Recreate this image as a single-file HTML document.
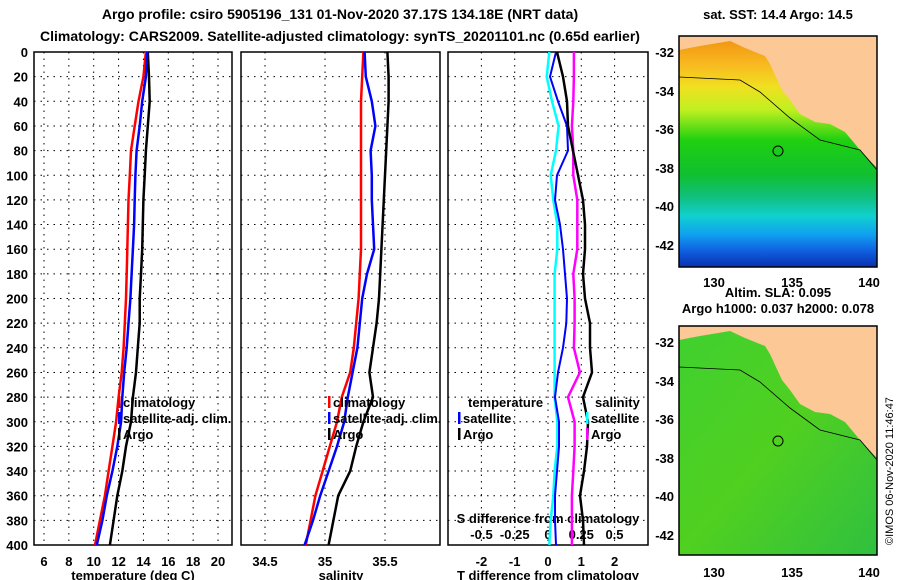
<!DOCTYPE html>
<html><head><meta charset="utf-8"><style>
body{margin:0;background:#fff}
svg{display:block;font-family:"Liberation Sans",sans-serif;font-weight:bold}
</style></head><body>
<svg id="c" width="900" height="580" viewBox="0 0 900 580">
<text x="340" y="19" font-size="14" text-anchor="middle">Argo profile: csiro 5905196_131 01-Nov-2020 37.17S 134.18E (NRT data)</text>
<text x="340" y="41" font-size="14" text-anchor="middle">Climatology: CARS2009. Satellite-adjusted climatology: synTS_20201101.nc (0.65d earlier)</text>
<g id="g"></g>
</svg>
<script>
const depths=[0,20,40,60,80,100,120,140,160,180,200,220,240,260,280,300,320,340,360,380,400];
const tArgo=[14.35,14.45,14.5,14.35,14.2,14.1,14.0,13.95,13.9,13.8,13.7,13.7,13.55,13.4,13.15,13.0,12.6,12.3,11.9,11.6,11.3];
const tClim=[14.2,14.0,13.6,13.3,13.0,12.9,12.8,12.75,12.7,12.65,12.6,12.5,12.4,12.25,12.0,11.8,11.5,11.2,10.9,10.5,10.1];
const tSat=[14.3,14.2,13.9,13.7,13.45,13.35,13.3,13.25,13.15,13.05,12.95,12.8,12.65,12.45,12.3,12.2,11.9,11.5,11.05,10.7,10.25];
const sArgo=[35.52,35.53,35.53,35.52,35.51,35.5,35.49,35.48,35.47,35.46,35.45,35.43,35.4,35.37,35.4,35.32,35.26,35.21,35.11,35.07,35.03];
const sClim=[35.32,35.31,35.3,35.3,35.3,35.3,35.3,35.3,35.3,35.29,35.28,35.26,35.24,35.21,35.14,35.1,35.04,34.98,34.92,34.88,34.84];
const sSat=[35.33,35.34,35.39,35.42,35.38,35.39,35.39,35.4,35.41,35.35,35.31,35.29,35.27,35.23,35.19,35.16,35.1,35.03,34.96,34.9,34.83];
const dTsat=[0.24,0.06,0.3,0.57,0.6,0.27,0.21,0.36,0.45,0.51,0.57,0.55,0.45,0.3,0.21,0.33,0.33,0.27,0.21,0.21,0.24];
const dTargo=[0.27,0.45,0.57,0.6,0.75,0.9,1.05,1.11,1.11,1.05,1.11,1.26,1.26,1.32,1.05,1.2,1.17,1.08,0.96,1.05,1.08];
const dSsat=[0.01,-0.01,0.03,0.08,0.06,0.02,0.04,0.07,0.07,0.05,0.05,0.05,0.05,0.05,0.05,0.07,0.07,0.05,0.04,0.02,0.01];
const dSargo=[0.195,0.195,0.19,0.18,0.19,0.19,0.22,0.22,0.22,0.19,0.2,0.2,0.195,0.24,0.15,0.2,0.2,0.19,0.18,0.18,0.18];
const tTicks=[6,8,10,12,14,16,18,20];
const sTicks=[34.5,35,35.5];
const dtTicks=[-2,-1,0,1,2];
const dsTicks=[-0.5,-0.25,0,0.25,0.5];
const depthTicks=[0,20,40,60,80,100,120,140,160,180,200,220,240,260,280,300,320,340,360,380,400];

const NS='http://www.w3.org/2000/svg';
const G=document.getElementById('g');
function mk(t,a,p){const e=document.createElementNS(NS,t);for(const k in a)e.setAttribute(k,a[k]);(p||G).appendChild(e);return e;}
const Y0=52,Y1=545;
const yD=d=>Y0+(Y1-Y0)*d/400;
const xT=v=>44+(v-6)*12.43;
const xS=v=>265+(v-34.5)*120;
const xDT=v=>548+v*33.3;
const xDS=v=>548+v*133;
const panels=[[34,232],[241,440],[448,648]];
panels.forEach((p,i)=>{
  const b=mk('rect',{x:p[0],y:Y0,width:p[1]-p[0],height:Y1-Y0,fill:'none',stroke:'#000','stroke-width':1.5});
  
  
  depthTicks.forEach(d=>{if(d>0&&d<400){const l=mk('line',{x1:p[0],x2:p[1],y1:yD(d),y2:yD(d),stroke:'#000','stroke-dasharray':'1.5 5'});
  
  }});
});
depthTicks.forEach(d=>{const t=mk('text',{x:28,y:yD(d)+5,'font-size':13,'text-anchor':'end'});t.textContent=d;

});
function vgrid(ticks,fx,fmt,yl,ext){ticks.forEach(v=>{const x=fx(v);
 if(ext){const l=mk('line',{x1:x,x2:x,y1:Y0,y2:Y1,stroke:'#000','stroke-dasharray':'1.5 5'});
 
 }
 const t=mk('text',{x:x,y:yl,'font-size':13,'text-anchor':'middle'});t.textContent=fmt?fmt(v):v;
 
 });}
vgrid(tTicks,xT,null,566,true);
vgrid(sTicks,xS,null,566,true);
vgrid(dtTicks,xDT,null,566,true);
vgrid(dsTicks,xDS,null,539,false);
function lbl(x,y,s,name,anchor){const t=mk('text',{x:x,y:y,'font-size':13,'text-anchor':anchor||'middle'});t.textContent=s;

}
lbl(133,580,'temperature (deg C)','x-axis-title-temperature');
lbl(341,580,'salinity','x-axis-title-salinity');
lbl(548,580,'T difference from climatology','x-axis-title-t-diff');
lbl(548,523,'S difference from climatology','s-diff-axis-title');
function line(vals,fx,col,w,name){const pts=vals.map((v,i)=>fx(v).toFixed(1)+','+yD(depths[i]).toFixed(1)).join(' ');
 const e=mk('polyline',{points:pts,fill:'none',stroke:col,'stroke-width':w});
 
 }
line(tArgo,xT,'#000',2.5,'temp-argo-line');
line(tClim,xT,'#f00',2.5,'temp-climatology-line');
line(tSat,xT,'#00f',2.5,'temp-satellite-line');
line(sArgo,xS,'#000',2.5,'sal-argo-line');
line(sClim,xS,'#f00',2.5,'sal-climatology-line');
line(sSat,xS,'#00f',2.5,'sal-satellite-line');
line(dSsat,xDS,'#0ff',2.5,'s-diff-satellite-line');
line(dSargo,xDS,'#f0f',2.5,'s-diff-argo-line');
line(dTsat,xDT,'#00f',2,'t-diff-satellite-line');
line(dTargo,xDT,'#000',2.5,'t-diff-argo-line');
function leg(x,y,col,s,name){if(col){const r=mk('rect',{x:x,y:y-11,width:2.5,height:12,fill:col});
 
 }
 lbl(x+5,y,s,name,'start');}
leg(118,407,'#f00','climatology','legend-climatology-1');
leg(118,423,'#00f','satellite-adj. clim.','legend-satellite-1');
leg(118,439,'#000','Argo','legend-argo-1');
leg(328,407,'#f00','climatology','legend-climatology-2');
leg(328,423,'#00f','satellite-adj. clim.','legend-satellite-2');
leg(328,439,'#000','Argo','legend-argo-2');
leg(463,407,null,'temperature','legend-temperature-head');
leg(458,423,'#00f','satellite','legend-t-satellite');
leg(458,439,'#000','Argo','legend-t-argo');
leg(590,407,null,'salinity','legend-salinity-head');
leg(586,423,'#0ff','satellite','legend-s-satellite');
leg(586,439,'#f0f','Argo','legend-s-argo');
</script>
<svg width="900" height="580" style="position:absolute;left:0;top:0">
<defs>
<linearGradient id="sst" gradientUnits="userSpaceOnUse" x1="0" y1="36" x2="0" y2="267">
<stop offset="0" stop-color="#f09010"/><stop offset="0.12" stop-color="#f8b820"/><stop offset="0.22" stop-color="#f0e020"/><stop offset="0.32" stop-color="#c0f020"/><stop offset="0.45" stop-color="#20d010"/><stop offset="0.6" stop-color="#10c030"/><stop offset="0.7" stop-color="#10c080"/><stop offset="0.78" stop-color="#10d0d0"/><stop offset="0.86" stop-color="#10a0f0"/><stop offset="0.93" stop-color="#1060e0"/><stop offset="1" stop-color="#0830b0"/></linearGradient>
<linearGradient id="sla" x1="0" y1="0" x2="1" y2="1">
<stop offset="0" stop-color="#40d030"/><stop offset="0.5" stop-color="#50d020"/><stop offset="1" stop-color="#30c040"/></linearGradient>
</defs>
<g font-family="Liberation Sans, sans-serif" font-weight="bold" font-size="13">
<text x="778" y="19" text-anchor="middle">sat. SST: 14.4 Argo: 14.5</text>
<rect x="679" y="36" width="198" height="231" fill="url(#sst)"/>
<path d="M679,36 L877,36 L877,168 L860,150 L845,132 L830,124 L815,122 L800,114 L790,100 L782,90 L775,75 L770,64 L765,56 L745,48 L730,41 L700,46 L679,50 Z" fill="#fbc896"/>
<path d="M679,77 L740,80 L760,92 L790,118 L820,140 L860,150 L877,170" fill="none" stroke="#000" stroke-width="0.8"/>
<circle cx="778" cy="151" r="5" fill="none" stroke="#000"/>
<rect x="679" y="36" width="198" height="231" fill="none" stroke="#000" stroke-width="1.5"/>
<text x="778" y="297" text-anchor="middle">Altim. SLA: 0.095</text>
<text x="778" y="313" text-anchor="middle">Argo h1000: 0.037 h2000: 0.078</text>
<rect x="679" y="326" width="198" height="229" fill="url(#sla)"/>
<path d="M679,326 L877,326 L877,458 L860,440 L845,422 L830,414 L815,412 L800,404 L790,390 L782,380 L775,365 L770,354 L765,346 L745,338 L730,331 L700,336 L679,340 Z" fill="#fbc896"/>
<path d="M679,367 L740,370 L760,382 L790,408 L820,430 L860,440 L877,460" fill="none" stroke="#000" stroke-width="0.8"/>
<circle cx="778" cy="441" r="5" fill="none" stroke="#000"/>
<rect x="679" y="326" width="198" height="229" fill="none" stroke="#000" stroke-width="1.5"/>
<g text-anchor="end">
<text x="674" y="57">-32</text><text x="674" y="96">-34</text><text x="674" y="134">-36</text><text x="674" y="173">-38</text><text x="674" y="211">-40</text><text x="674" y="250">-42</text>
<text x="674" y="347">-32</text><text x="674" y="386">-34</text><text x="674" y="424">-36</text><text x="674" y="463">-38</text><text x="674" y="501">-40</text><text x="674" y="540">-42</text>
</g>
<g text-anchor="middle">
<text x="714" y="287">130</text><text x="792" y="287">135</text><text x="869" y="287">140</text>
<text x="714" y="577">130</text><text x="792" y="577">135</text><text x="869" y="577">140</text>
</g>
<text transform="translate(893,545) rotate(-90)" font-size="11" font-weight="normal">©IMOS 06-Nov-2020 11:46:47</text>
</g>
</svg>
</body></html>
